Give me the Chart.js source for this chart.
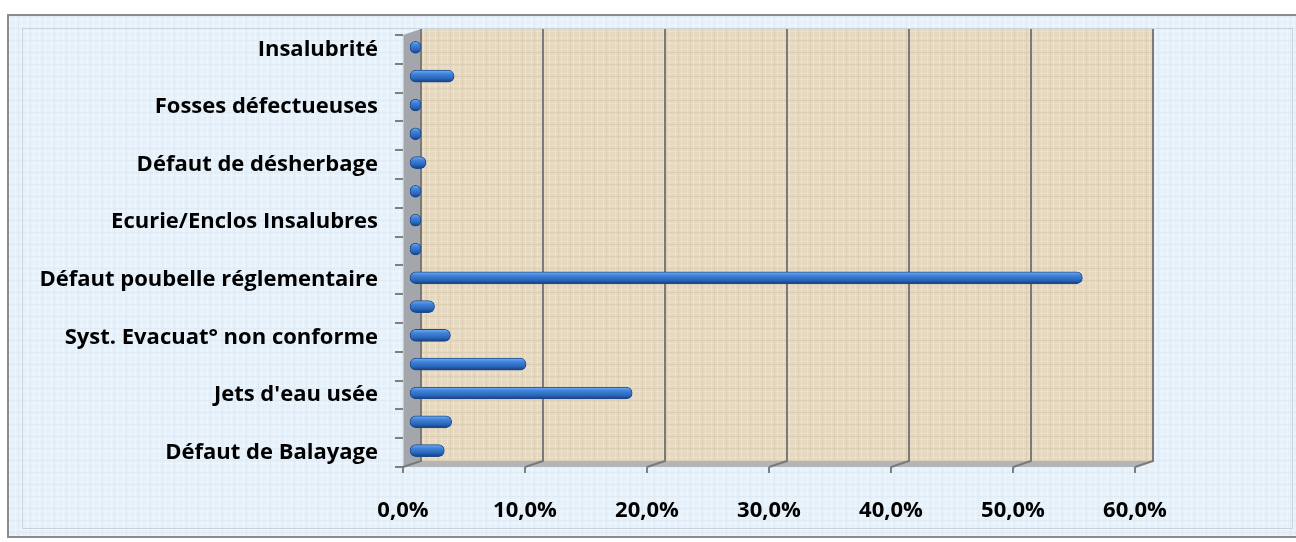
<!DOCTYPE html>
<html><head><meta charset="utf-8">
<script src="https://cdn.jsdelivr.net/npm/chart.js@4/dist/chart.umd.min.js"></script>
<style>html,body{margin:0;padding:0;background:#fff;}#wrap{width:1296px;height:542px;}</style>
</head><body><div id="wrap"><canvas id="c" width="1296" height="542"></canvas></div>
<script>
// Categories from bottom to top (every other label is hidden in the original)
const categories = ['Défaut de Balayage','', "Jets d'eau usée", '', 'Syst. Evacuat° non conforme', '', 'Défaut poubelle réglementaire', '', 'Ecurie/Enclos Insalubres', '', 'Défaut de désherbage', '', 'Fosses défectueuses', '', 'Insalubrité'];
const values = [2.9, 3.5, 18.3, 9.6, 3.4, 2.1, 55.2, 0.3, 0.5, 0.3, 1.4, 0.5, 0.5, 3.7, 0.5];
const xTicks = [0, 10, 20, 30, 40, 50, 60];

const DX = 18, DY = -6; // 3D depth offset of back wall
const BAR_DX = 6, BAR_DY = -2;

function makePattern(ctx, base, light, dark) {
  const c = document.createElement('canvas');
  c.width = 12; c.height = 12;
  const p = c.getContext('2d');
  p.fillStyle = base; p.fillRect(0, 0, 12, 12);
  p.fillStyle = light;
  p.fillRect(0, 1, 12, 1); p.fillRect(0, 7, 12, 1);
  p.fillRect(3, 0, 1, 12); p.fillRect(9, 0, 1, 12);
  p.fillStyle = dark;
  p.fillRect(0, 4, 12, 1); p.fillRect(6, 0, 1, 12);
  return ctx.createPattern(c, 'repeat');
}

const decor = {
  id: 'decor',
  beforeDraw(chart) {
    const ctx = chart.ctx;
    ctx.save();
    ctx.fillStyle = '#ffffff';
    ctx.fillRect(0, 0, chart.width, chart.height);
    ctx.fillStyle = makePattern(ctx, '#e6f0f9', '#eef5fc', '#dfeaf5');
    ctx.fillRect(8, 15, 1300, 522);
    ctx.strokeStyle = '#8c8c8c'; ctx.lineWidth = 2;
    ctx.strokeRect(8, 15, 1300, 522);
    ctx.strokeStyle = '#c9d3dc'; ctx.lineWidth = 1;
    ctx.strokeRect(22.5, 28.5, 1270, 500);
    const a = chart.chartArea, xs = chart.scales.x;
    const L = a.left, R = a.right, T = a.top, B = a.bottom;
    // back wall
    ctx.fillStyle = makePattern(ctx, '#e5d8c1', '#ebe1cf', '#dccdb3');
    ctx.fillRect(L + DX, T + DY, R - L, B - T);
    // side wall
    ctx.fillStyle = '#a3a7ab';
    ctx.beginPath();
    ctx.moveTo(L, T); ctx.lineTo(L + DX, T + DY); ctx.lineTo(L + DX, B + DY); ctx.lineTo(L, B); ctx.closePath();
    ctx.fill();
    ctx.strokeStyle = '#c4c7ca'; ctx.lineWidth = 1;
    ctx.beginPath(); ctx.moveTo(L + 0.5, T); ctx.lineTo(L + 0.5, B); ctx.stroke();
    // floor
    ctx.fillStyle = '#b3b5b8';
    ctx.beginPath();
    ctx.moveTo(L, B); ctx.lineTo(L + DX, B + DY); ctx.lineTo(R + DX, B + DY); ctx.lineTo(R, B); ctx.closePath();
    ctx.fill();
    // gridlines on back wall and floor
    ctx.strokeStyle = '#7a7a7a'; ctx.lineWidth = 2;
    xTicks.forEach(v => {
      const px = xs.getPixelForValue(v);
      ctx.beginPath();
      ctx.moveTo(px + DX, T + DY); ctx.lineTo(px + DX, B + DY); ctx.lineTo(px, B);
      ctx.stroke();
    });
    ctx.restore();
  },
  beforeDatasetsDraw(chart) {
    chart.ctx.save();
    chart.ctx.translate(BAR_DX, BAR_DY);
  },
  afterDatasetsDraw(chart) {
    chart.ctx.restore();
  }
};

function barFill(context) {
  const chart = context.chart;
  if (!chart.chartArea || !chart.scales.y) return '#2d6ec6';
  const yc = chart.scales.y.getPixelForValue(context.dataIndex);
  const g = chart.ctx.createLinearGradient(0, yc - 6, 0, yc + 6);
  g.addColorStop(0, '#74aef2');
  g.addColorStop(0.3, '#3f84db');
  g.addColorStop(0.7, '#2a66ba');
  g.addColorStop(1, '#163c78');
  return g;
}

new Chart(document.getElementById('c'), {
  type: 'bar',
  data: {
    labels: categories,
    datasets: [{
      data: values,
      backgroundColor: barFill,
      borderColor: '#1d4a8e',
      borderWidth: 1,
      borderRadius: 6,
      borderSkipped: false,
      barThickness: 12,
      minBarLength: 12,
      clip: false
    }]
  },
  options: {
    indexAxis: 'y',
    responsive: false,
    animation: false,
    devicePixelRatio: 1,
    layout: { padding: { top: 35, right: 161, left: 0, bottom: 0 } },
    plugins: { legend: { display: false }, tooltip: { enabled: false } },
    scales: {
      y: {
        reverse: true,
        afterFit(s) { s.width = 403; },
        grid: { display: true, drawOnChartArea: false, offset: true, tickLength: 8, color: '#7f7f7f', lineWidth: 2 },
        border: { display: false },
        ticks: {
          autoSkip: false,
          padding: 17,
          color: '#000',
          font: { family: 'Open Sans', weight: 'bold', size: 22 }
        }
      },
      x: {
        min: 0, max: 60,
        afterFit(s) { s.height = 75; },
        afterBuildTicks(s) { s.ticks = xTicks.map(v => ({ value: v })); },
        grid: { display: true, drawOnChartArea: false, tickLength: 6, color: '#7f7f7f', lineWidth: 2 },
        border: { display: false },
        ticks: {
          padding: 25,
          color: '#000',
          font: { family: 'Open Sans', weight: 'bold', size: 22 },
          callback: v => v.toFixed(1).replace('.', ',') + '%'
        }
      }
    }
  },
  plugins: [decor]
});
</script>
</body></html>
